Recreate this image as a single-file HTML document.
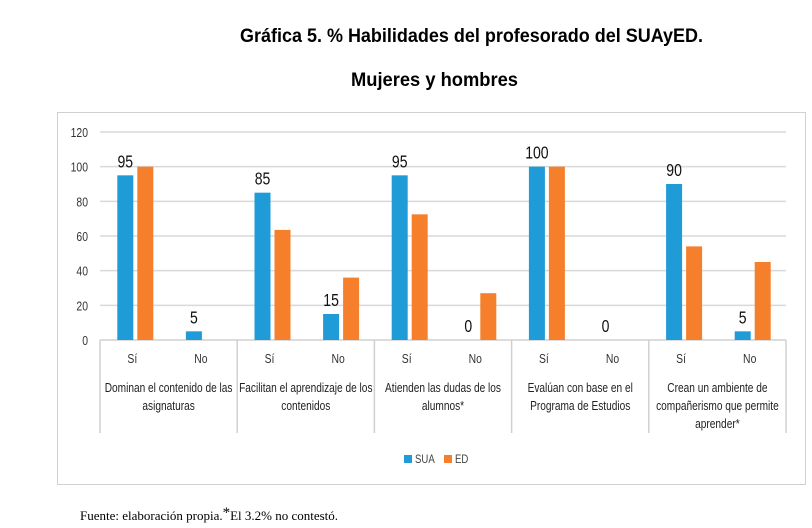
<!DOCTYPE html>
<html><head><meta charset="utf-8"><style>
body{margin:0;background:#fff;width:812px;height:528px;overflow:hidden}
svg{display:block;font-family:"Liberation Sans",sans-serif}
</style></head><body>
<svg id="c" width="812" height="528">
<text x="240" y="42" font-size="19" font-weight="bold" textLength="463" lengthAdjust="spacingAndGlyphs">Gráfica 5. % Habilidades del profesorado del SUAyED.</text>
<text x="351" y="86" font-size="19" font-weight="bold" textLength="167" lengthAdjust="spacingAndGlyphs">Mujeres y hombres</text>
<rect x="57.5" y="112.5" width="748" height="372" fill="none" stroke="#d0d0d0"/>
<g id="grid"></g><g id="bars"></g><g id="xaxis"></g>
<g>
<rect x="404" y="455" width="8" height="8" fill="#1f9bd7"/>
<text transform="translate(415,463) scale(0.8,1)" font-size="12" fill="#444">SUA</text>
<rect x="444" y="455" width="8" height="8" fill="#f57f2a"/>
<text transform="translate(455,463) scale(0.8,1)" font-size="12" fill="#444">ED</text>
</g>
<text x="80" y="520" font-size="13" font-family="Liberation Serif,serif">Fuente: elaboración propia.<tspan font-size="15" dy="-3">*</tspan><tspan dy="3">El 3.2% no contestó.</tspan></text>
</svg>
<script>
const groups=[["Dominan el contenido de las","asignaturas"],["Facilitan el aprendizaje de los","contenidos"],["Atienden las dudas de los","alumnos*"],["Evalúan con base en el","Programa de Estudios"],["Crean un ambiente de","compañerismo que permite","aprender*"]];
const subs=["Sí","No"];
const sua=[95,5,85,15,95,0,100,0,90,5];
const ed=[100,0,63.5,36,72.5,27,100,0,54,45];
const ticks=[0,20,40,60,80,100,120];
const NS="http://www.w3.org/2000/svg";
const L=100,R=786,Y0=340,Ytop=132;
const y=v=>Y0-(v/120)*(Y0-Ytop);
const n=sua.length,bw=(R-L)/n;
const x=i=>L+i*bw;
function mk(t,a,p,txt){const e=document.createElementNS(NS,t);for(const k in a)e.setAttribute(k,a[k]);if(txt!=null)e.textContent=txt;p.appendChild(e);return e;}
function tr(px,py,s){return 'translate('+px+','+py+') scale('+s+',1)';}
const G=document.getElementById('grid'),B=document.getElementById('bars'),X=document.getElementById('xaxis');
ticks.forEach(t=>{
 if(t>0){const l=mk('line',{x1:L,x2:R,y1:y(t),y2:y(t),stroke:'#d9d9d9','stroke-width':1.5},G);
 
 }
 const tx=mk('text',{transform:tr(88,y(t)+5,0.8),'font-size':13,'text-anchor':'end',fill:'#333'},G,t);
 
 
});
const ax=mk('line',{x1:L,x2:R,y1:Y0,y2:Y0,stroke:'#d0d0d0','stroke-width':1.5},G);


for(let i=0;i<n;i++){
 const cx=x(i)+bw/2;
 const r1=mk('rect',{x:cx-17,y:y(sua[i]),width:16,height:Y0-y(sua[i]),fill:'#1f9bd7'},B);
 
 
 const r2=mk('rect',{x:cx+3,y:y(ed[i]),width:16,height:Y0-y(ed[i]),fill:'#f57f2a'},B);
 
 
 const lb=mk('text',{transform:tr(cx-9,y(sua[i])-8,0.78),'font-size':18,'text-anchor':'middle',fill:'#111'},B,sua[i]);
 
 
 const st=mk('text',{transform:tr(cx-2,363,0.8),'font-size':13,'text-anchor':'middle',fill:'#333'},X,subs[i%2]);
 
 
}
groups.forEach((g,j)=>{
 const gx=L+j*2*bw;
 const vl=mk('line',{x1:gx,x2:gx,y1:Y0,y2:433,stroke:'#d0d0d0','stroke-width':1.5},X);
 
 
 g.forEach((ln,k)=>{
  const t=mk('text',{transform:tr(gx+bw,392+k*18,0.78),'font-size':13,'text-anchor':'middle',fill:'#222'},X,ln);
  
  
 });
});
const vr=mk('line',{x1:R,x2:R,y1:Y0,y2:433,stroke:'#d0d0d0','stroke-width':1.5},X);


</script>
</body></html>
